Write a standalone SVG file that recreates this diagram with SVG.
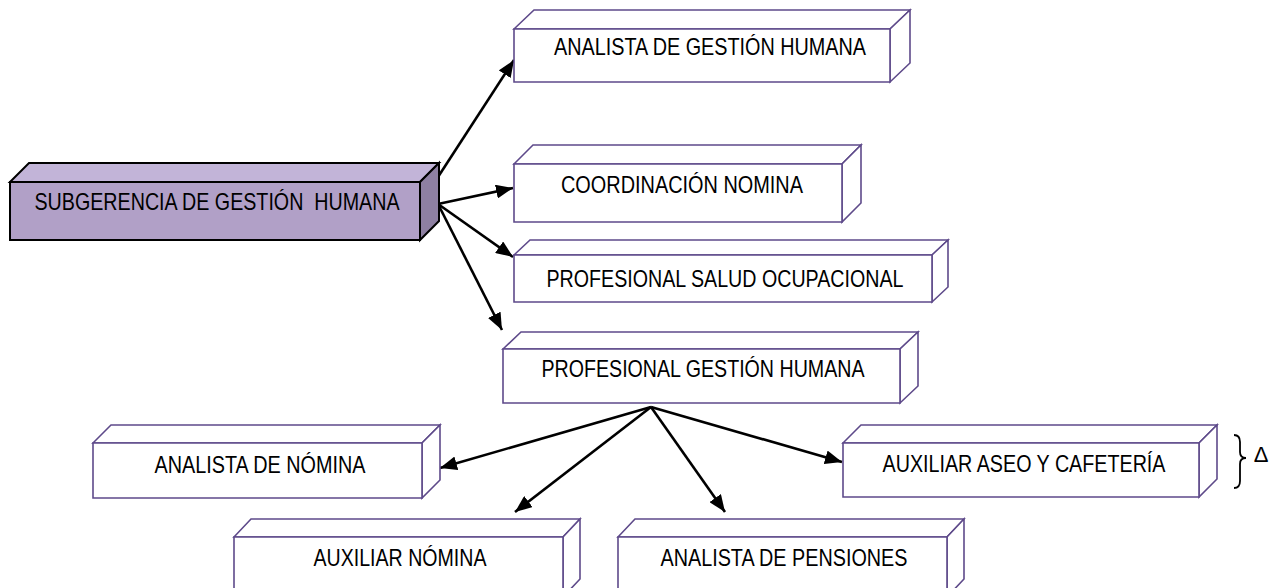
<svg xmlns="http://www.w3.org/2000/svg" width="1280" height="588" viewBox="0 0 1280 588">
<defs>
<marker id="arr" markerUnits="userSpaceOnUse" markerWidth="17" markerHeight="14" refX="17" refY="7" orient="auto">
<path d="M0,0 L17,7 L0,14 z" fill="#000"/>
</marker>
<style>
.box path{fill:#fff;stroke:#5e4a8a;stroke-width:1.6;stroke-linejoin:miter}
#sub path{stroke:#000;stroke-width:2}
#sub .front{fill:#b1a0c7}
#sub .top{fill:#c2b4d8}
#sub .side{fill:#8e80a2}
text{font-family:"Liberation Sans Narrow","Arial Narrow","Liberation Sans",Arial,sans-serif;font-size:24px;fill:#000;text-anchor:middle}
.conn line{stroke:#000;stroke-width:2.6;marker-end:url(#arr)}
</style>
</defs>
<rect width="1280" height="588" fill="#fff"/>

<g class="conn" id="connectors">
<line x1="438" y1="177" x2="514" y2="60"/>
<line x1="438" y1="204" x2="513" y2="188"/>
<line x1="438" y1="204" x2="513" y2="257"/>
<line x1="438" y1="204" x2="502" y2="330"/>
<line x1="651" y1="407" x2="440" y2="468"/>
<line x1="651" y1="407" x2="515" y2="512"/>
<line x1="651" y1="407" x2="725" y2="512"/>
<line x1="651" y1="407" x2="842" y2="462"/>
</g>

<g class="box" id="sub">
<path class="top" d="M10,182 L29,163 L439,163 L420,182 z"/>
<path class="side" d="M420,182 L439,163 L439,221 L420,240 z"/>
<path class="front" d="M10,182 H420 V240 H10 z"/>
<text x="217" y="210" textLength="365" lengthAdjust="spacingAndGlyphs" style="white-space:pre">SUBGERENCIA DE GESTIÓN  HUMANA</text>
</g>

<g class="box" id="agh">
<path d="M514,29 L534,10 L910,10 L890,29 z"/>
<path d="M890,29 L910,10 L910,63 L890,82 z"/>
<path d="M514,29 H890 V82 H514 z"/>
<text x="710" y="55" textLength="312" lengthAdjust="spacingAndGlyphs">ANALISTA DE GESTIÓN HUMANA</text>
</g>

<g class="box" id="coord">
<path d="M514,164 L533,145 L861,145 L842,164 z"/>
<path d="M842,164 L861,145 L861,203 L842,222 z"/>
<path d="M514,164 H842 V222 H514 z"/>
<text x="682" y="193" textLength="242" lengthAdjust="spacingAndGlyphs">COORDINACIÓN NOMINA</text>
</g>

<g class="box" id="salud">
<path d="M514,255 L530,240 L948,240 L932,255 z"/>
<path d="M932,255 L948,240 L948,287 L932,302 z"/>
<path d="M514,255 H932 V302 H514 z"/>
<text x="725" y="287" textLength="357" lengthAdjust="spacingAndGlyphs">PROFESIONAL SALUD OCUPACIONAL</text>
</g>

<g class="box" id="pgh">
<path d="M503,349 L521,332 L918,332 L900,349 z"/>
<path d="M900,349 L918,332 L918,386 L900,403 z"/>
<path d="M503,349 H900 V403 H503 z"/>
<text x="703" y="377" textLength="323" lengthAdjust="spacingAndGlyphs">PROFESIONAL GESTIÓN HUMANA</text>
</g>

<g class="box" id="analista-nomina">
<path d="M93,443 L111,425 L440,425 L422,443 z"/>
<path d="M422,443 L440,425 L440,480 L422,498 z"/>
<path d="M93,443 H422 V498 H93 z"/>
<text x="260" y="473" textLength="211" lengthAdjust="spacingAndGlyphs">ANALISTA DE NÓMINA</text>
</g>

<g class="box" id="aseo">
<path d="M843,443 L861,425 L1217,425 L1199,443 z"/>
<path d="M1199,443 L1217,425 L1217,479 L1199,497 z"/>
<path d="M843,443 H1199 V497 H843 z"/>
<text x="1024" y="472" textLength="283" lengthAdjust="spacingAndGlyphs">AUXILIAR ASEO Y CAFETERÍA</text>
</g>

<g class="box" id="aux-nomina">
<path d="M234,537 L251,519 L580,519 L563,537 z"/>
<path d="M563,537 L580,519 L580,579 L563,597 z"/>
<path d="M234,537 H563 V597 H234 z"/>
<text x="400" y="566" textLength="173" lengthAdjust="spacingAndGlyphs">AUXILIAR NÓMINA</text>
</g>

<g class="box" id="pensiones">
<path d="M618,537 L635,519 L964,519 L947,537 z"/>
<path d="M947,537 L964,519 L964,579 L947,597 z"/>
<path d="M618,537 H947 V597 H618 z"/>
<text x="784" y="566" textLength="247" lengthAdjust="spacingAndGlyphs">ANALISTA DE PENSIONES</text>
</g>

<g id="note">
<path d="M1234,435 Q1240,435 1240,442 L1240,452 Q1240,458 1246,458 Q1240,458 1240,464 L1240,481 Q1240,488 1234,488" fill="none" stroke="#000" stroke-width="1.8"/>
<text x="1261" y="462" style="font-family:'Liberation Sans',Arial,sans-serif;font-size:22px">Δ</text>
</g>
</svg>
